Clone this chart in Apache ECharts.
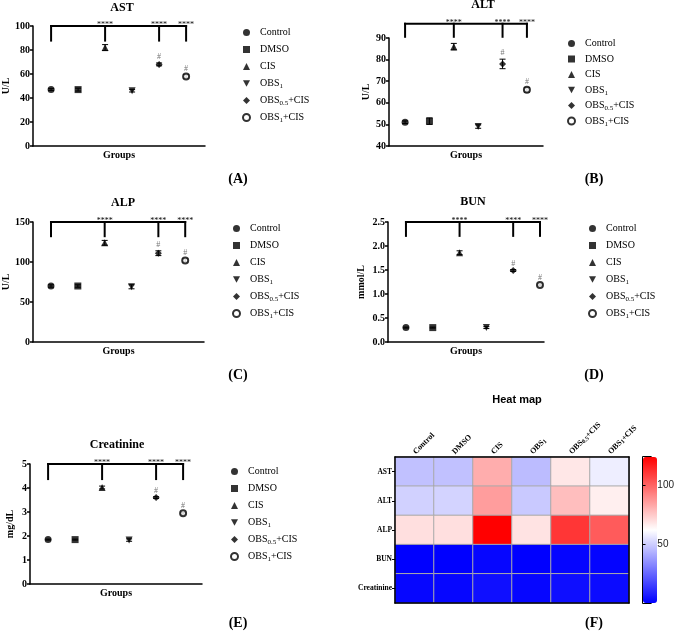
<!DOCTYPE html>
<html>
<head>
<meta charset="utf-8">
<title>Serum markers</title>
<script src="https://cdn.jsdelivr.net/npm/echarts@6/dist/echarts.min.js"></script>
<style>
  html, body { margin: 0; padding: 0; background: #fff; }
  #main { width: 677px; height: 632px; }
</style>
</head>
<body>
<div id="main"></div>
<script>
// groups and markers
var groups = ['Control', 'DMSO', 'CIS', 'OBS1', 'OBS0.5+CIS', 'OBS1+CIS'];
var markers = ['circle', 'rect', 'triangle', 'path://M0,0L10,0L5,9Z', 'diamond', 'emptyCircle'];

// means and error bars
var astMean = [47, 47, 82, 46, 68, 58];
var astErr = [0.8, 1.2, 2.5, 1.0, 1.2, 1.5];
var altMean = [51, 51.5, 86, 49, 78, 66];
var altErr = [0.6, 1.5, 1.5, 0.8, 2.2, 1.0];
var alpMean = [70, 70, 124, 69, 111, 102];
var alpErr = [1.5, 1.5, 3, 2.5, 3, 2];
var bunMean = [0.3, 0.3, 1.86, 0.3, 1.49, 1.19];
var bunErr = [0.01, 0.01, 0.04, 0.02, 0.02, 0.02];
var creMean = [1.85, 1.85, 4.02, 1.83, 3.6, 2.95];
var creErr = [0.02, 0.02, 0.06, 0.05, 0.04, 0.04];

// significance marks
var stars = ['', '', '****', '', '****', '****'];
var hashes = ['', '', '', '', '#', '#'];
var bracketDrops = [0, 2, 4, 5];

// heat map rows and colour bar ticks
var heatRows = ['AST', 'ALT', 'ALP', 'BUN', 'Creatinine'];
var heatValues = [astMean, altMean, alpMean, bunMean, creMean];
var colorTicks = [50, 100];

var serif = "'Liberation Serif', 'Times New Roman', serif";
var sans = "'Liberation Sans', Arial, sans-serif";

function subName(n) {
  if (n === 'OBS1') return 'OBS{s|1}';
  if (n === 'OBS0.5+CIS') return 'OBS{s|0.5}+CIS';
  if (n === 'OBS1+CIS') return 'OBS{s|1}+CIS';
  return n;
}

var panels = [
  { name: 'AST', mean: astMean, err: astErr, unit: 'U/L', ymin: 0, ymax: 100, step: 20, bTop: 100, bLow: 87,
    grid: { left: 33, top: 26, width: 172, height: 120 }, xr: [-0.67, 5.7], title: [122, 2], nameGap: 22,
    legend: [242, 26, 4], label: ['(A)', 238, 172] },
  { name: 'ALT', mean: altMean, err: altErr, unit: 'U/L', ymin: 40, ymax: 90, step: 10, bTop: 96.6, bLow: 90.1,
    grid: { left: 389, top: 38, width: 154, height: 108 }, xr: [-0.66, 5.66], title: [483, -1], nameGap: 18,
    legend: [567, 37, 2.5], label: ['(B)', 594, 172] },
  { name: 'ALP', mean: alpMean, err: alpErr, unit: 'U/L', ymin: 0, ymax: 150, step: 50, bTop: 150, bLow: 131,
    grid: { left: 33, top: 222, width: 171, height: 120 }, xr: [-0.67, 5.7], title: [123, 197], nameGap: 22,
    legend: [232, 222, 4], label: ['(C)', 238, 368] },
  { name: 'BUN', mean: bunMean, err: bunErr, unit: 'mmol/L', ymin: 0, ymax: 2.5, step: 0.5, bTop: 2.5, bLow: 2.19,
    grid: { left: 388, top: 222, width: 156, height: 120 }, xr: [-0.67, 5.15], title: [473, 196], nameGap: 22,
    legend: [588, 222, 4], label: ['(D)', 594, 368], fmt: function (v) { return v.toFixed(1); } },
  { name: 'Creatinine', mean: creMean, err: creErr, unit: 'mg/dL', ymin: 0, ymax: 5, step: 1, bTop: 5, bLow: 4.33,
    grid: { left: 30, top: 464, width: 172, height: 120 }, xr: [-0.67, 5.7], title: [117, 439], nameGap: 15,
    legend: [230, 465, 4], label: ['(E)', 238, 616] }
];

var option = {
  animation: false,
  backgroundColor: '#fff',
  title: [], grid: [], xAxis: [], yAxis: [], legend: [], series: []
};

panels.forEach(function (p, k) {
  option.grid.push(p.grid);
  option.title.push({
    text: p.name, left: p.title[0], top: p.title[1], textAlign: 'center', padding: 0,
    textStyle: { fontFamily: serif, fontSize: 12, fontWeight: 'bold', color: '#000' }
  });
  option.title.push({
    text: p.label[0], left: p.label[1], top: p.label[2], textAlign: 'center', padding: 0,
    textStyle: { fontFamily: serif, fontSize: 14, fontWeight: 'bold', color: '#000' }
  });
  option.xAxis.push({
    type: 'value', gridIndex: k, min: p.xr[0], max: p.xr[1],
    name: 'Groups', nameLocation: 'middle', nameGap: 4,
    nameTextStyle: { fontFamily: serif, fontSize: 10, fontWeight: 'bold', color: '#000', verticalAlign: 'top' },
    axisLine: { onZero: false, lineStyle: { color: '#000', width: 1.5 } },
    axisTick: { show: false }, axisLabel: { show: false }, splitLine: { show: false }
  });
  option.yAxis.push({
    type: 'value', gridIndex: k, min: p.ymin, max: p.ymax, interval: p.step,
    name: p.unit, nameLocation: 'middle', nameGap: p.nameGap,
    nameTextStyle: { fontFamily: serif, fontSize: 10, fontWeight: 'bold', color: '#000' },
    axisLine: { show: true, onZero: false, lineStyle: { color: '#000', width: 1.5 } },
    axisTick: { show: true, length: 3, lineStyle: { color: '#000', width: 1.5 } },
    axisLabel: { margin: 3, fontFamily: serif, fontSize: 10, fontWeight: 'bold', color: '#000', formatter: p.fmt },
    splitLine: { show: false }
  });
  option.legend.push({
    data: groups, orient: 'vertical', left: p.legend[0], top: p.legend[1], itemGap: p.legend[2],
    itemWidth: 7, itemHeight: 7, padding: 0, selectedMode: false,
    formatter: subName,
    textStyle: {
      fontFamily: serif, fontSize: 10, color: '#000', lineHeight: 13, padding: [0, 0, 0, 5],
      rich: { s: { fontFamily: serif, fontSize: 7, verticalAlign: 'bottom', lineHeight: 9, padding: [4, 0, 0, 0] } }
    }
  });
  groups.forEach(function (g, i) {
    option.series.push({
      type: 'scatter', name: g, xAxisIndex: k, yAxisIndex: k, z: 3,
      symbol: markers[i], symbolSize: i === 5 ? 6 : 7,
      itemStyle: { color: '#000' },
      emphasis: { disabled: true },
      data: [[i, p.mean[i]]]
    });
  });
  // error bars with the # marks
  option.series.push({
    type: 'custom', xAxisIndex: k, yAxisIndex: k, z: 2, silent: true,
    data: p.mean.map(function (m, i) { return [i, m - p.err[i], m + p.err[i]]; }),
    renderItem: function (params, api) {
      var x = api.value(0);
      var lo = api.coord([x, api.value(1)]);
      var hi = api.coord([x, api.value(2)]);
      var c = 3;
      var st = { stroke: '#000', lineWidth: 1 };
      return {
        type: 'group', children: [
          { type: 'line', shape: { x1: lo[0], y1: lo[1], x2: hi[0], y2: hi[1] }, style: st },
          { type: 'line', shape: { x1: lo[0] - c, y1: lo[1], x2: lo[0] + c, y2: lo[1] }, style: st },
          { type: 'line', shape: { x1: hi[0] - c, y1: hi[1], x2: hi[0] + c, y2: hi[1] }, style: st },
          { type: 'text', x: hi[0], y: hi[1] - 2,
            style: { text: hashes[params.dataIndex], fill: '#777', fontSize: 8, fontFamily: serif,
                     align: 'center', verticalAlign: 'bottom' } }
        ]
      };
    }
  });
  // comparison bracket
  option.series.push({
    type: 'custom', xAxisIndex: k, yAxisIndex: k, z: 2, silent: true, clip: false,
    data: bracketDrops.map(function (i) { return [i, p.bLow, p.bTop]; }),
    renderItem: function (params, api) {
      var x = api.value(0);
      var top = api.coord([x, api.value(2)]);
      var low = api.coord([x, api.value(1)]);
      var st = { stroke: '#000', lineWidth: 2 };
      var kids = [{ type: 'line', shape: { x1: top[0], y1: top[1] - 1, x2: low[0], y2: low[1] }, style: st }];
      if (params.dataIndex === 0) {
        var end = api.coord([bracketDrops[bracketDrops.length - 1], api.value(2)]);
        kids.push({ type: 'line', shape: { x1: top[0] - 1, y1: top[1], x2: end[0] + 1, y2: end[1] }, style: st });
      }
      if (stars[x]) {
        kids.push({ type: 'text', x: top[0], y: top[1] - 1,
          style: { text: stars[x], fill: '#000', fontSize: 8, fontFamily: serif, align: 'center', verticalAlign: 'middle' } });
      }
      return { type: 'group', children: kids };
    }
  });
});

// heat map panel
var hmin = Infinity, hmax = -Infinity;
var heatData = [];
heatValues.forEach(function (row, r) {
  row.forEach(function (v, c) {
    heatData.push([c, r, v]);
    hmin = Math.min(hmin, v);
    hmax = Math.max(hmax, v);
  });
});

option.title.push({
  text: 'Heat map', left: 517, top: 394, textAlign: 'center', padding: 0,
  textStyle: { fontFamily: sans, fontSize: 11, fontWeight: 'bold', color: '#000' }
});
option.title.push({
  text: '(F)', left: 594, top: 616, textAlign: 'center', padding: 0,
  textStyle: { fontFamily: serif, fontSize: 14, fontWeight: 'bold', color: '#000' }
});

option.grid.push({ left: 395, top: 457, width: 234, height: 146 });
option.grid.push({ left: 642.5, top: 456.5, width: 15, height: 147, show: true, borderColor: '#000', borderWidth: 1 });

option.xAxis.push({
  type: 'category', gridIndex: 5, data: groups, position: 'top', z: 5,
  axisLine: { lineStyle: { color: '#000', width: 1.5 } }, axisTick: { show: false },
  axisLabel: {
    rotate: -45, interval: 0, margin: 4, formatter: subName,
    fontFamily: serif, fontSize: 8, fontWeight: 'bold', color: '#000',
    rich: { s: { fontFamily: serif, fontSize: 6, fontWeight: 'bold', verticalAlign: 'bottom', padding: [3, 0, 0, 0] } }
  },
  splitLine: { show: false }
});
option.xAxis.push({
  type: 'category', gridIndex: 5, data: groups, position: 'bottom', z: 5,
  axisLine: { lineStyle: { color: '#000', width: 1.5 } }, axisTick: { show: false }, axisLabel: { show: false }
});
option.xAxis.push({ type: 'value', gridIndex: 6, show: false });

option.yAxis.push({
  type: 'category', gridIndex: 5, data: heatRows, inverse: true, z: 5,
  axisLine: { lineStyle: { color: '#000', width: 1.5 } },
  axisTick: { show: true, alignWithLabel: true, length: 3, lineStyle: { color: '#000' } },
  axisLabel: { margin: 3, fontFamily: serif, fontSize: 7.5, fontWeight: 'bold', color: '#000' }
});
option.yAxis.push({
  type: 'category', gridIndex: 5, data: heatRows, inverse: true, position: 'right', z: 5,
  axisLine: { lineStyle: { color: '#000', width: 1.5 } }, axisTick: { show: false }, axisLabel: { show: false }
});
option.yAxis.push({
  type: 'value', gridIndex: 6, min: hmin, max: hmax, position: 'right', z: 5,
  axisLine: { show: false }, splitLine: { show: false },
  axisTick: { show: true, customValues: colorTicks, length: 3, lineStyle: { color: '#000' } },
  axisLabel: { customValues: colorTicks, margin: 6, fontFamily: sans, fontSize: 10, color: '#222' }
});

var heatIndex = option.series.length;
option.series.push({
  type: 'heatmap', xAxisIndex: 5, yAxisIndex: 5, data: heatData,
  itemStyle: { borderColor: '#aaa', borderWidth: 1 },
  emphasis: { disabled: true }
});

option.visualMap = {
  type: 'continuous', seriesIndex: heatIndex, min: hmin, max: hmax,
  left: 643, top: 457, itemWidth: 14, itemHeight: 146, padding: 0,
  calculable: false, hoverLink: false, text: null, showLabel: false,
  inRange: { color: ['#0000ff', '#ffffff', '#ff0000'] }
};

var myChart = echarts.init(document.getElementById('main'));
myChart.setOption(option);
</script>
</body>
</html>
